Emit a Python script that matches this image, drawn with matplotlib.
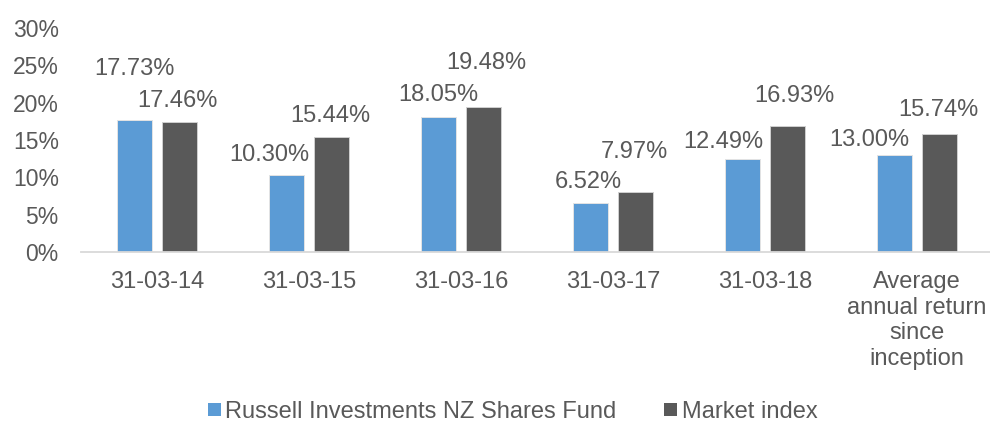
import matplotlib
matplotlib.use("Agg")
import matplotlib.pyplot as plt
import numpy as np
from matplotlib.patches import Patch

categories = ["31-03-14", "31-03-15", "31-03-16", "31-03-17", "31-03-18",
              "Average\nannual return\nsince\ninception"]
fund = [17.73, 10.30, 18.05, 6.52, 12.49, 13.00]
market = [17.46, 15.44, 19.48, 7.97, 16.93, 15.74]
series_names = ["Russell Investments NZ Shares Fund", "Market index"]
yticks = [0, 5, 10, 15, 20, 25, 30]

# label offsets (pixels) of label centre from bar-top centre
fund_off = [(0, 53), (-17, 22.5), (0, 25), (-2.5, 24), (-19.5, 19.7), (-25, 17.5)]
market_off = [(-2, 23.6), (-1, 23), (2.5, 46.5), (-1, 43), (6.5, 31.6), (-1, 26.7)]

plt.rcParams['font.family'] = ['Liberation Sans', 'DejaVu Sans']
TXT = '#595959'
BLUE = '#5B9BD5'
GREY = '#595959'

fig = plt.figure(figsize=(9.9, 4.23), dpi=100)
ax = fig.add_axes([81/990, (423-252)/423, 912/990, 224/423])

x = np.arange(len(categories))
w = 0.224
off = 0.148
ax.bar(x - off, fund, w, color=BLUE, edgecolor='#e3e3e3', linewidth=0.7)
ax.bar(x + off, market, w, color=GREY, edgecolor='#d0d0d0', linewidth=0.7)

ax.set_xlim(-0.5, len(categories) - 0.5)
ax.set_ylim(0, 30)
ax.set_yticks(yticks)
ax.set_yticklabels([f"{t}%" for t in yticks], fontsize=16.5, color=TXT)
ax.set_xticks(x)
ax.set_xticklabels(categories, fontsize=17, color=TXT, linespacing=1.2)
ax.tick_params(axis='y', length=0, pad=16)
ax.tick_params(axis='x', length=0, pad=14)

for s in ['top', 'right', 'left']:
    ax.spines[s].set_visible(False)
ax.spines['bottom'].set_color('#d9d9d9')
ax.spines['bottom'].set_linewidth(1.3)

def lab(xs, vals, offs):
    for xi, v, (dx, dy) in zip(xs, vals, offs):
        ax.annotate(f"{v:.2f}%", xy=(xi, v), xytext=(dx, dy - 8.5),
                    textcoords='offset pixels', ha='center', va='baseline',
                    fontsize=17, color=TXT, annotation_clip=False)

lab(x - off, fund, fund_off)
lab(x + off, market, market_off)

handles = [Patch(facecolor=BLUE, edgecolor='none'), Patch(facecolor=GREY, edgecolor='none')]
fig.legend(handles, series_names, loc='center', bbox_to_anchor=(512.5/990, 1 - 412/423),
           ncol=2, frameon=False, fontsize=17, handlelength=0.55, handleheight=0.47,
           handletextpad=0.2, columnspacing=2.0, labelcolor=TXT, borderpad=0, borderaxespad=0)

fig.savefig("out.png", dpi=100)
